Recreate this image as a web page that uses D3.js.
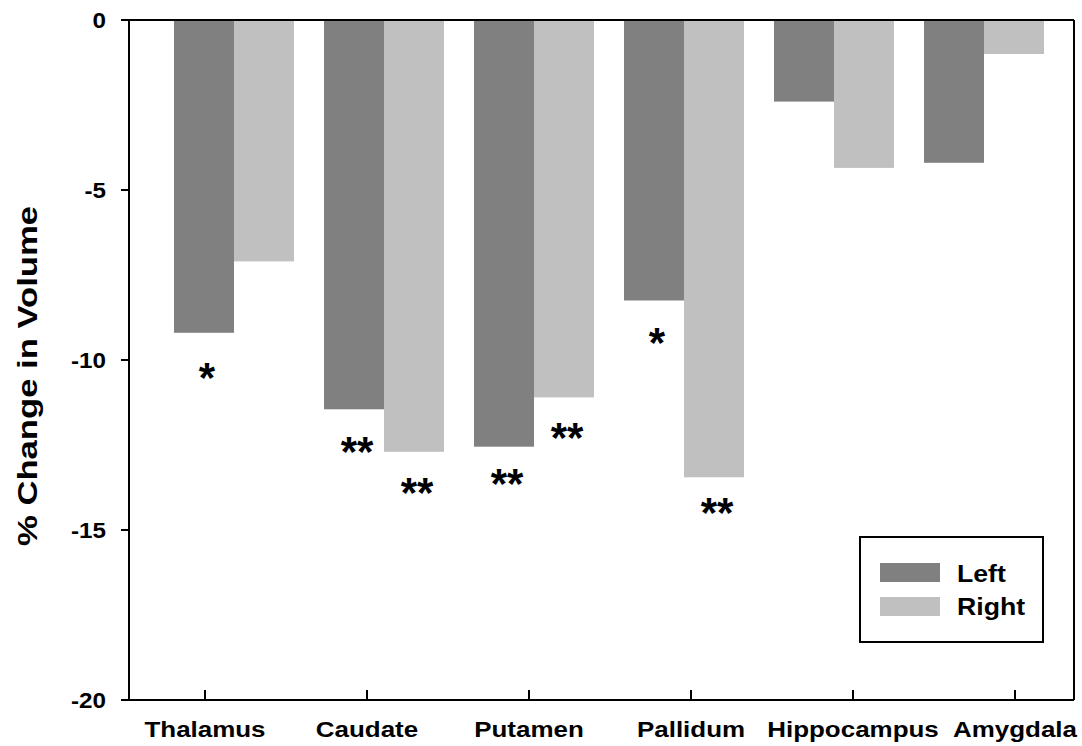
<!DOCTYPE html>
<html>
<head>
<meta charset="utf-8">
<script src="https://cdn.jsdelivr.net/npm/d3@7"></script>
<style>
  body { margin: 0; background: #fff; }
  text { font-family: "Liberation Sans", Arial, sans-serif; font-weight: bold; fill: #000; }
</style>
</head>
<body>
<div id="chart"></div>
<script>
// data
const categories = ['Thalamus', 'Caudate', 'Putamen', 'Pallidum', 'Hippocampus', 'Amygdala'];
const leftValues = [-9.2, -11.45, -12.55, -8.25, -2.4, -4.2];
const rightValues = [-7.1, -12.7, -11.1, -13.45, -4.35, -1.0];
const leftSig = ['*', '**', '**', '*', '', ''];
const rightSig = ['', '**', '**', '**', '', ''];
// where each significance mark sits (value units)
const leftSigAt = [-10.35, -12.53, -13.47, -9.32, null, null];
const rightSigAt = [null, -13.74, -12.12, -14.32, null, null];
const yTicks = [0, -5, -10, -15, -20];
const seriesNames = ['Left', 'Right'];
const seriesColors = ['#808080', '#c0c0c0'];

const width = 1082, height = 746;
const box = { left: 129, right: 1074, top: 20, bottom: 700 };

const svg = d3.select('#chart').append('svg')
    .attr('width', width)
    .attr('height', height);

const y = d3.scaleLinear().domain([0, -20]).range([box.top, box.bottom]);

// bar groups and tick positions do not share spacing in the original
const xGroup = d3.scaleBand().domain(categories).range([159, 1059])
    .paddingInner(0.2).paddingOuter(0.1);
const xSide = d3.scaleBand().domain(seriesNames).range([0, xGroup.bandwidth()]);
const xTick = d3.scalePoint().domain(categories).range([205, 1015]);

const rows = categories.map((c, i) => ({
    cat: c,
    vals: [
        { s: 'Left', v: leftValues[i], sig: leftSig[i], at: leftSigAt[i] },
        { s: 'Right', v: rightValues[i], sig: rightSig[i], at: rightSigAt[i] }
    ]
}));

// bars
const groups = svg.selectAll('.grp')
    .data(rows)
    .join('g')
    .attr('class', 'grp')
    .attr('transform', d => `translate(${xGroup(d.cat)},0)`);

groups.selectAll('rect')
    .data(d => d.vals)
    .join('rect')
    .attr('x', d => xSide(d.s))
    .attr('width', xSide.bandwidth())
    .attr('y', y(0))
    .attr('height', d => y(d.v) - y(0))
    .attr('fill', (d, i) => seriesColors[i]);

// significance stars
const starSize = 42;
groups.selectAll('.sig')
    .data(d => d.vals.filter(v => v.sig))
    .join('text')
    .attr('class', 'sig')
    .attr('x', d => xSide(d.s) + xSide.bandwidth() / 2 + 3)
    .attr('y', d => y(d.at) + starSize * 0.47)
    .attr('text-anchor', 'middle')
    .style('font-size', starSize + 'px')
    .text(d => d.sig);

// frame
const frame = svg.append('g').attr('stroke', '#000').attr('stroke-width', 2).attr('fill', 'none');
frame.append('line').attr('x1', box.left - 8).attr('x2', box.right).attr('y1', y(0)).attr('y2', y(0));
frame.append('line').attr('x1', box.left - 8).attr('x2', box.right).attr('y1', y(-20)).attr('y2', y(-20));
frame.append('line').attr('x1', box.left).attr('x2', box.left).attr('y1', box.top).attr('y2', box.bottom);
frame.append('line').attr('x1', box.right).attr('x2', box.right).attr('y1', box.top).attr('y2', box.bottom);

// y ticks
frame.selectAll('.yt')
    .data(yTicks)
    .join('line')
    .attr('x1', box.left - 8).attr('x2', box.left)
    .attr('y1', d => y(d)).attr('y2', d => y(d));

svg.selectAll('.ylab')
    .data(yTicks)
    .join('text')
    .attr('class', 'ylab')
    .attr('text-anchor', 'end')
    .attr('transform', d => `translate(106,${y(d) + 8}) scale(1.1,1)`)
    .style('font-size', '22px')
    .text(d => d);

// x ticks
frame.selectAll('.xt')
    .data(categories)
    .join('line')
    .attr('x1', d => xTick(d)).attr('x2', d => xTick(d))
    .attr('y1', box.bottom - 10).attr('y2', box.bottom);

svg.selectAll('.xlab')
    .data(categories)
    .join('text')
    .attr('class', 'xlab')
    .attr('text-anchor', 'middle')
    .attr('transform', d => `translate(${xTick(d)},737) scale(1.18,1)`)
    .style('font-size', '22px')
    .text(d => d);

// y axis title
svg.append('text')
    .attr('transform', 'translate(37,376) rotate(-90)')
    .attr('text-anchor', 'middle')
    .attr('textLength', 340)
    .attr('lengthAdjust', 'spacingAndGlyphs')
    .style('font-size', '28px')
    .text('% Change in Volume');

// legend
const legend = svg.append('g').attr('transform', 'translate(860,537)');
legend.append('rect')
    .attr('width', 183).attr('height', 105)
    .attr('fill', '#fff').attr('stroke', '#000').attr('stroke-width', 2);
seriesNames.forEach((name, i) => {
    legend.append('rect')
        .attr('x', 20).attr('y', 26 + i * 34)
        .attr('width', 60).attr('height', 19)
        .attr('fill', seriesColors[i]);
    legend.append('text')
        .attr('transform', `translate(97,${45 + i * 33}) scale(1.16,1)`)
        .style('font-size', '23px')
        .text(name);
});
</script>
</body>
</html>
